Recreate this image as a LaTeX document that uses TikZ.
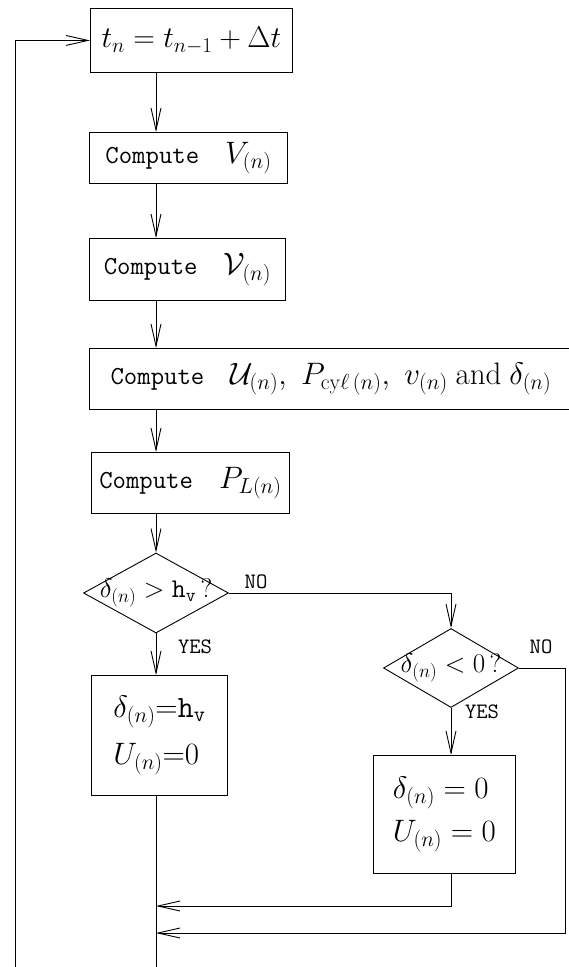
\documentclass[tikz,border=0pt]{standalone}
\usepackage{fix-cm}
\usepackage{tikz}
\usetikzlibrary{arrows.meta,positioning,shapes.geometric}
\newcommand{\hw}[1]{{\fontsize{31}{36}\selectfont$#1$}}

\begin{document}
\begin{tikzpicture}[x=1pt, y=-1pt, line width=0.9pt,
  every node/.style={font=\fontsize{26}{30}\selectfont},
  box/.style={draw, anchor=north west, inner sep=0pt, align=center},
  decision/.style={draw, diamond, inner sep=0pt},
  query/.style={font=\fontsize{27}{30}\selectfont, inner sep=0pt},
  tag/.style={font=\fontsize{22}{24}\selectfont\ttfamily, inner sep=1pt},
  flow/.style={-{Straight Barb[length=22pt,width=10pt]}}]
\useasboundingbox (0,0) rectangle (569,967);
\coordinate (spine) at (156,0);
% main column
\node[box, minimum width=202pt, minimum height=64pt, font=\fontsize{30}{34}\selectfont] (tbox) at (90,8) {$t_n = t_{n-1} + \Delta t$};
\node[box, minimum width=198pt, minimum height=51pt] (vbox) at (89,132) {\texttt{Compute}\quad\hw{V_{(n)}}};
\node[box, minimum width=196pt, minimum height=62pt] (wbox) at (89,238) {\texttt{Compute}\quad\hw{\mathcal{V}_{(n)}}};
\node[box, minimum width=483pt, minimum height=61pt] (ubox) at (89,348) {\texttt{Compute}\quad\hw{\mathcal{U}_{(n)},\ P_{\mathrm{cy}\ell\,(n)},\ v_{(n)}}\ {\fontsize{31}{36}\selectfont and} \hw{\delta_{(n)}}};
\node[box, minimum width=198pt, minimum height=61pt] (pbox) at (91,452) {\texttt{Compute}\quad\hw{P_{L(n)}}};
% tests
\node[decision, minimum width=145pt, minimum height=80pt] (d1) at (156,593) {};
\node[query] (q1) at (d1) {$\delta_{(n)} > \mathtt{h}_{\mathtt{v}}\,?$};
\node[decision, minimum width=135pt, minimum height=79pt] (d2) at (451,668) {};
\node[query] (q2) at (d2) {$\delta_{(n)} < 0\,?$};
\node[box, minimum width=136pt, minimum height=120pt, align=left] (hbox) at (91,675) {\hw{\delta_{(n)}{=}\mathtt{h}_{\mathtt{v}}}\\[14pt]\hw{U_{(n)}{=}0}};
\node[box, minimum width=142pt, minimum height=118pt, align=left] (zbox) at (373,755) {\hw{\delta_{(n)} = 0}\\[10pt]\hw{U_{(n)} = 0}};
\node[tag] (no1) at (256,582) {NO};
\node[tag] (yes1) at (195,647) {YES};
\node[tag] (no2) at (541,647) {NO};
\node[tag] (yes2) at (482,712) {YES};
\coordinate (nr) at (565,933);
\coordinate (zr) at (0,906);
\coordinate (lb) at (15,967);
\coordinate (sb) at (0,967);
% connectors
\draw[flow] (tbox.south -| spine) -- (vbox.north -| spine);
\draw[flow] (vbox.south -| spine) -- (wbox.north -| spine);
\draw[flow] (wbox.south -| spine) -- (ubox.north -| spine);
\draw[flow] (ubox.south -| spine) -- (pbox.north -| spine);
\draw[flow] (pbox.south -| spine) -- (d1.north);
\draw[flow] (d1.south) -- (hbox.north -| spine);
\draw[flow] (d1.east) -| (d2.north);
\draw[flow] (d2.south) -- (d2.south |- zbox.north);
\draw[flow] (zbox.south -| d2.south) |- (zr -| spine);
\draw[flow] (d2.east) -| (nr) -- (nr -| spine);
\draw (hbox.south -| spine) -- (sb -| spine);
\draw[flow] (lb) |- (tbox.west);
\end{tikzpicture}
\end{document}
